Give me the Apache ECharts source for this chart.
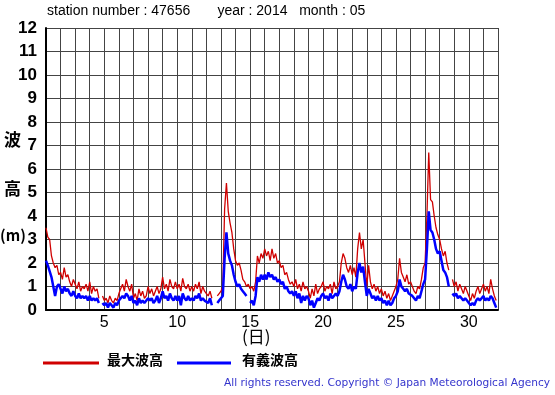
<!DOCTYPE html>
<html><head><meta charset="utf-8">
<script src="https://cdn.jsdelivr.net/npm/echarts@6/dist/echarts.min.js"></script>
<style>html,body{margin:0;padding:0;background:#fff}#c{width:555px;height:395px}</style>
</head><body><div id="c"></div>
<script>
// 3-hourly values, 8 per day, starting day 1 00h
const maxWave = [
3.5,3.1,3.0,2.3,2.0,1.8,1.9,1.5,
1.6,1.3,1.8,1.4,1.5,1.2,1.0,1.3,
1.1,0.9,1.2,0.8,1.0,0.9,1.1,0.8,
1.2,0.7,1.0,0.8,0.9,0.5,null,0.6,
0.4,0.5,0.3,0.6,0.4,0.3,0.5,0.4,
0.7,0.9,1.1,0.8,1.3,1.0,0.8,1.1,
0.5,0.7,0.4,0.9,0.6,0.8,0.5,0.6,
1.0,0.7,0.9,0.6,0.8,1.0,0.7,0.9,
1.4,0.9,1.1,0.8,1.3,1.0,0.9,1.2,
0.9,1.1,0.8,1.35,1.0,0.9,1.1,0.8,
1.0,0.8,1.1,0.9,1.2,0.7,1.0,0.8,
0.7,0.6,0.8,0.5,null,null,0.6,0.7,
0.8,1.0,4.3,5.4,4.2,3.7,3.3,2.6,
2.1,1.9,2.0,1.7,1.3,1.2,1.0,1.1,
0.9,1.0,0.8,1.2,2.3,2.0,2.4,2.2,
2.6,2.3,2.5,2.1,2.6,2.2,2.4,2.0,
2.1,1.8,1.9,1.5,1.6,1.3,1.1,1.2,
1.0,1.3,0.9,1.1,0.8,1.2,0.9,1.0,
0.8,0.5,0.9,0.6,1.1,0.7,0.9,1.0,
1.2,0.8,1.0,0.9,1.1,0.7,1.2,0.9,
1.0,1.2,2.0,2.4,2.2,1.8,1.6,1.9,
1.5,1.8,1.4,2.6,3.3,2.6,3.0,2.0,
1.0,1.9,1.2,0.9,1.1,0.8,1.0,0.7,
0.9,0.6,0.8,0.5,0.7,0.4,0.6,0.8,
1.0,1.3,2.2,1.6,1.4,1.2,1.5,1.1,
1.2,1.0,0.8,0.7,1.0,0.9,1.3,1.8,
2.0,4.0,6.7,4.7,4.6,4.0,3.5,3.2,
3.0,2.6,2.3,2.5,2.0,1.7,null,1.3,
1.0,1.2,0.8,1.1,0.9,0.7,1.0,0.8,
0.6,0.4,0.7,0.5,0.8,1.0,0.7,0.9,
1.1,0.8,1.0,0.7,1.3,0.9,0.6,0.4
];
const sigWave = [
2.1,1.9,1.9,1.4,1.0,0.6,1.0,1.1,
0.9,0.7,1.0,0.8,0.9,0.7,0.6,0.8,
0.6,0.5,0.7,0.5,0.6,0.5,0.6,0.4,
0.6,0.4,0.5,0.4,0.5,0.3,null,0.3,
0.2,0.3,0.1,0.3,0.2,0.1,0.3,0.2,
0.4,0.5,0.6,0.5,0.7,0.6,0.4,0.6,
0.3,0.4,0.2,0.5,0.3,0.4,0.3,0.3,
0.5,0.4,0.5,0.3,0.4,0.6,0.3,0.5,
0.8,0.5,0.6,0.4,0.7,0.5,0.4,0.6,
0.4,0.6,0.2,0.7,0.5,0.4,0.6,0.4,
0.5,0.4,0.6,0.5,0.7,0.4,0.5,0.4,
0.4,0.3,0.5,0.2,null,null,0.3,0.4,
0.4,0.6,2.2,3.3,2.4,2.1,1.9,1.5,
1.2,1.0,1.1,0.9,0.8,0.7,0.6,null,
0.3,0.4,0.2,0.6,1.4,1.2,1.5,1.3,
1.5,1.3,1.6,1.4,1.5,1.3,1.4,1.2,
1.3,1.1,1.2,0.9,1.0,0.8,0.7,0.8,
0.6,0.8,0.5,0.7,0.3,0.6,0.4,0.6,
0.5,0.2,0.4,0.1,0.3,0.5,0.4,0.6,
0.7,0.5,0.6,0.4,0.7,0.5,0.6,0.7,
0.6,0.8,1.2,1.5,1.3,1.0,0.9,1.1,
0.8,1.0,0.9,1.6,2.0,1.6,1.85,1.2,
0.6,0.9,0.7,0.5,0.6,0.4,0.6,0.4,
0.5,0.3,0.4,0.2,0.4,0.2,0.3,0.5,
0.6,0.8,1.3,1.0,0.9,0.8,0.9,0.7,
0.7,0.6,0.5,0.4,0.6,0.5,0.8,1.1,
1.3,2.6,4.2,3.4,3.3,3.0,2.6,2.4,
2.5,2.1,1.7,1.6,1.4,1.0,null,0.7,
0.6,0.7,0.5,0.6,0.5,0.4,0.5,0.4,
0.3,0.2,0.3,0.2,0.4,0.5,0.4,0.5,
0.6,0.4,0.5,0.4,0.6,0.5,0.3,0.1
];
const stepsPerDay = 8;
const firstDay = 1;
const lastDay = 32;
const dayLabels = [5,10,15,20,25,30];
const seriesNames = ['最大波高','有義波高'];
const titleText = 'station number : 47656       year : 2014   month : 05';
const copyright = 'All rights reserved. Copyright © Japan Meteorological Agency';

const toXY = arr => arr.map((v,i)=>[firstDay + i/stepsPerDay, v]);

const chart = echarts.init(document.getElementById('c'));
chart.setOption({
  animation:false,
  backgroundColor:'#fff',
  grid:{left:46,right:57,top:28,bottom:85},
  xAxis:{type:'value',min:firstDay,max:lastDay,interval:1,
    axisLine:{show:true,onZero:false,lineStyle:{color:'#000',width:2}},
    axisTick:{show:false},
    splitLine:{show:true,lineStyle:{color:'#444',width:1}},
    axisLabel:{margin:5,color:'#000',fontSize:16,fontFamily:'Liberation Sans, Arial',
      formatter:v=>dayLabels.includes(v)?String(v):''}},
  yAxis:{type:'value',min:0,max:12,interval:1,
    axisLine:{show:true,lineStyle:{color:'#000',width:2}},
    axisTick:{show:false},
    splitLine:{show:true,lineStyle:{color:'#444',width:1}},
    axisLabel:{margin:9,color:'#000',fontSize:17,fontWeight:'bold',fontFamily:'Liberation Sans, Arial'}},
  series:[
    {name:seriesNames[0],type:'line',data:toXY(maxWave),showSymbol:false,connectNulls:false,
      lineStyle:{color:'#d00000',width:1.3},itemStyle:{color:'#d00000'},z:3},
    {name:seriesNames[1],type:'line',data:toXY(sigWave),showSymbol:false,connectNulls:false,
      lineStyle:{color:'#0000ff',width:2.5},itemStyle:{color:'#0000ff'},z:4}
  ],
  graphic:[
    {type:'text',left:47,top:4,style:{text:titleText,fontSize:14,fill:'#000',fontFamily:'Liberation Sans, Arial'}},
    {type:'text',left:4,top:131,style:{text:'波',fontSize:17,fontWeight:'bold',fill:'#000',fontFamily:'Noto Sans CJK JP'}},
    {type:'text',left:4,top:180,style:{text:'高',fontSize:17,fontWeight:'bold',fill:'#000',fontFamily:'Noto Sans CJK JP'}},
    {type:'text',left:0,top:228,style:{text:'(m)',fontSize:15,fontWeight:'bold',fill:'#000',fontFamily:'Noto Sans CJK JP'}},
    {type:'text',left:242,top:328,style:{text:'(日)',fontSize:17,fill:'#000',fontFamily:'Noto Sans CJK JP'}},
    {type:'line',shape:{x1:43,y1:363,x2:99,y2:363},style:{stroke:'#d00000',lineWidth:3}},
    {type:'text',left:107,top:353,style:{text:seriesNames[0],fontSize:14,fontWeight:'bold',fill:'#000',fontFamily:'Noto Sans CJK JP'}},
    {type:'line',shape:{x1:177,y1:363,x2:231,y2:363},style:{stroke:'#0000ff',lineWidth:3}},
    {type:'text',left:242,top:353,style:{text:seriesNames[1],fontSize:14,fontWeight:'bold',fill:'#000',fontFamily:'Noto Sans CJK JP'}},
    {type:'text',right:5,top:378,style:{text:copyright,fontSize:10.6,fill:'#3333cc',fontFamily:'DejaVu Sans'}}
  ]
});
</script></body></html>
